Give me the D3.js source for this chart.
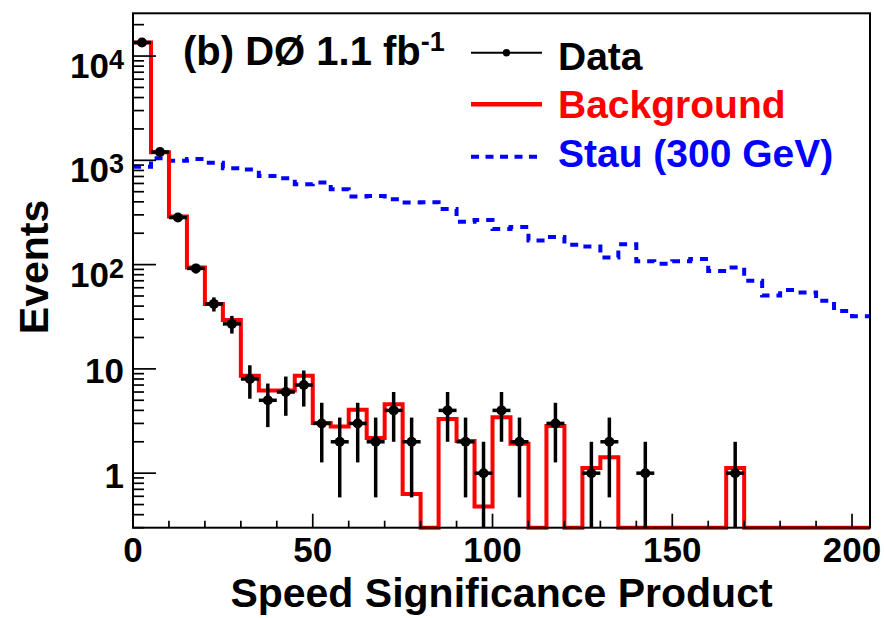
<!DOCTYPE html>
<html>
<head>
<meta charset="utf-8">
<title>Speed Significance Product</title>
<script src="https://cdnjs.cloudflare.com/ajax/libs/d3/7.8.5/d3.min.js"></script>
<style>
  body { margin: 0; background: #fff; }
  svg { font-family: "Liberation Sans", Arial, Helvetica, sans-serif; font-weight: bold; }
</style>
</head>
<body>
<div id="chart"></div>
<script>
// lower edge of each 5-unit bin
var binStart = [0, 5, 10, 15, 20, 25, 30, 35, 40, 45, 50, 55, 60, 65, 70, 75, 80, 85, 90, 95,
  100, 105, 110, 115, 120, 125, 130, 135, 140, 145, 150, 155, 160, 165, 170, 175, 180, 185, 190, 195, 200];
var binWidth = 5;

var dataCounts = [13500, 1200, 283, 92, 42, 27, 8, 5, 6, 7, 3, 2, 3, 2, 4, 2, 0, 4, 2, 1,
  4, 2, 0, 3, 0, 1, 2, 0, 1, 0, 0, 0, 0, 1, 0, 0, 0, 0, 0, 0, 0];

var bkgValues = [13500, 1195, 289, 93.6, 42, 29.5, 8.6, 6.2, 6.2, 8.6, 3.02, 2.8, 4.05, 2.17, 4.59, 0.63, 0, 3.3, 2.04, 0.48,
  3.44, 1.91, 0, 2.84, 0, 1.12, 1.42, 0, 0, 0, 0, 0, 0, 1.12, 0, 0, 0, 0, 0, 0, 0];

var stauValues = [870, 1048, 993, 1030, 950, 840, 815, 708, 673, 590, 614, 528, 451, 455, 424, 395, 397, 342, 258, 268,
  220, 230, 170, 184, 155, 149, 117, 157, 108, 102, 108, 113, 87, 94, 70, 50.5, 57, 54, 45, 36, 32];

var xTicks = [0, 50, 100, 150, 200];
var yTicks = [1, 10, 100, 1000, 10000];

var w = 884, h = 618;
var padL = 133, padR = 870, padT = 13.3, padB = 527.7;

var x = d3.scaleLinear().domain([0, 205]).range([padL, padR]);
var y = d3.scaleLog().domain([0.3, 25700]).range([padB, padT]);
var yMin = 0.3;

var svg = d3.select("#chart").append("svg")
  .attr("width", w)
  .attr("height", h);

svg.append("defs").append("clipPath").attr("id", "frameClip")
  .append("rect")
  .attr("x", padL).attr("y", padT)
  .attr("width", padR - padL).attr("height", padB - padT);

// step path for a histogram
function stepLine(values) {
  var pts = binStart.map(function(b, i) { return [b, values[i]]; });
  pts.push([binStart[binStart.length - 1] + binWidth, values[values.length - 1]]);
  return d3.line()
    .curve(d3.curveStepAfter)
    .x(function(d) { return x(d[0]); })
    .y(function(d) { return y(Math.max(d[1], yMin)); })(pts);
}

// stau signal, dashed blue
svg.append("path")
  .attr("d", stepLine(stauValues))
  .attr("fill", "none")
  .attr("stroke", "#0000ff")
  .attr("stroke-width", 4)
  .attr("stroke-dasharray", "8,7");

// background, red
svg.append("path")
  .attr("d", stepLine(bkgValues))
  .attr("fill", "none")
  .attr("stroke", "#ff0000")
  .attr("stroke-width", 4);

// data points with sqrt(N) errors
var pts = binStart.map(function(b, i) { return { lo: b, n: dataCounts[i] }; })
  .filter(function(d) { return d.n > 0; });

var dataG = svg.append("g").attr("clip-path", "url(#frameClip)");

dataG.selectAll("line.ey")
  .data(pts)
  .enter()
  .append("line")
  .attr("x1", function(d) { return x(d.lo + binWidth / 2); })
  .attr("x2", function(d) { return x(d.lo + binWidth / 2); })
  .attr("y1", function(d) { return y(Math.max(d.n - Math.sqrt(d.n), yMin / 2)); })
  .attr("y2", function(d) { return y(d.n + Math.sqrt(d.n)); })
  .attr("stroke", "#000")
  .attr("stroke-width", 3.5);

dataG.selectAll("line.ex")
  .data(pts)
  .enter()
  .append("line")
  .attr("x1", function(d) { return x(d.lo); })
  .attr("x2", function(d) { return x(d.lo + binWidth); })
  .attr("y1", function(d) { return y(d.n); })
  .attr("y2", function(d) { return y(d.n); })
  .attr("stroke", "#000")
  .attr("stroke-width", 3.5);

dataG.selectAll("circle")
  .data(pts)
  .enter()
  .append("circle")
  .attr("cx", function(d) { return x(d.lo + binWidth / 2); })
  .attr("cy", function(d) { return y(d.n); })
  .attr("r", 5)
  .attr("fill", "#000");

// frame
svg.append("rect")
  .attr("x", padL).attr("y", padT)
  .attr("width", padR - padL).attr("height", padB - padT)
  .attr("fill", "none")
  .attr("stroke", "#000")
  .attr("stroke-width", 2);

// x ticks
d3.range(0, 206, 10).forEach(function(t) {
  var major = xTicks.indexOf(t) >= 0;
  svg.append("line")
    .attr("x1", x(t)).attr("x2", x(t))
    .attr("y1", padB).attr("y2", padB - (major ? 14 : 7))
    .attr("stroke", "#000").attr("stroke-width", 1.7);
});
svg.selectAll("text.xt")
  .data(xTicks)
  .enter()
  .append("text")
  .attr("x", function(d) { return x(d); })
  .attr("y", 562)
  .attr("text-anchor", "middle")
  .attr("font-size", 35)
  .text(function(d) { return d; });

// y ticks
y.ticks().filter(function(t) { return t >= 0.3 && t <= 25700; }).forEach(function(t) {
  var major = yTicks.indexOf(Math.round(t * 1000) / 1000) >= 0;
  svg.append("line")
    .attr("x1", padL).attr("x2", padL + (major ? 23 : 11))
    .attr("y1", y(t)).attr("y2", y(t))
    .attr("stroke", "#000").attr("stroke-width", 1.7);
});
yTicks.forEach(function(t) {
  var lab = svg.append("text")
    .attr("x", 124)
    .attr("text-anchor", "end")
    .attr("font-size", 35);
  if (t >= 100) {
    lab.attr("y", y(t) + 22);
    lab.append("tspan").text("10");
    lab.append("tspan").attr("font-size", 27).attr("dy", -9).text(Math.round(Math.log10(t)));
  } else {
    lab.attr("y", y(t) + 14.5).text(t);
  }
});

// axis titles
svg.append("text")
  .attr("x", (padL + padR) / 2)
  .attr("y", 607)
  .attr("text-anchor", "middle")
  .attr("font-size", 41)
  .text("Speed Significance Product");

svg.append("text")
  .attr("transform", "translate(48,267) rotate(-90)")
  .attr("text-anchor", "middle")
  .attr("font-size", 41)
  .text("Events");

// experiment label
var lbl = svg.append("text")
  .attr("x", 183)
  .attr("y", 65)
  .attr("font-size", 40);
lbl.append("tspan").text("(b) D\u00d8 1.1 fb");
lbl.append("tspan").attr("font-size", 27).attr("dy", -14).text("-1");

// legend
var legend = [
  { name: "Data", color: "#000", ly: 52.7, ty: 70 },
  { name: "Background", color: "#ff0000", ly: 104.3, ty: 118.3 },
  { name: "Stau (300 GeV)", color: "#0000ff", ly: 156.7, ty: 166.7 }
];
legend.forEach(function(d, i) {
  var ln = svg.append("line")
    .attr("x1", 471).attr("x2", 542)
    .attr("y1", d.ly).attr("y2", d.ly)
    .attr("stroke", d.color);
  if (i === 0) {
    ln.attr("stroke-width", 2);
    svg.append("circle").attr("cx", 506.5).attr("cy", d.ly).attr("r", 3.7).attr("fill", "#000");
  } else if (i === 1) {
    ln.attr("stroke-width", 4.5);
  } else {
    ln.attr("stroke-width", 4).attr("stroke-dasharray", "8,6.5");
  }
  svg.append("text")
    .attr("x", 558)
    .attr("y", d.ty)
    .attr("font-size", 39)
    .attr("fill", d.color)
    .text(d.name);
});
</script>
</body>
</html>
